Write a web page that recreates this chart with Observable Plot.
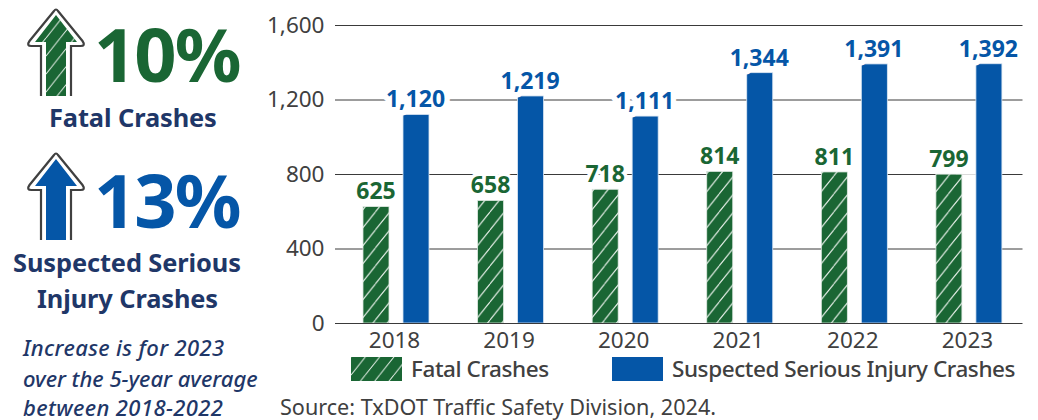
<!DOCTYPE html>
<html>
<head>
<meta charset="utf-8">
<script src="https://cdn.jsdelivr.net/npm/d3@7"></script>
<script src="https://cdn.jsdelivr.net/npm/@observablehq/plot@0.6"></script>
<style>
  html,body{margin:0;padding:0;background:#fff;overflow:hidden}
  #page{position:relative;width:1038px;height:420px;font-family:"Noto Sans",sans-serif}
  #page svg{position:absolute;left:0;top:0}
  .t{position:absolute;white-space:nowrap;line-height:1;transform:translateY(-50%)}
  .big{font-weight:700;font-size:74px;letter-spacing:-2px}
  .head{font-weight:700;font-size:25.4px;color:#1f3768;letter-spacing:-0.1px}
  .note{font-style:italic;font-size:22px;color:#1f3768;font-weight:500}
  .leg{font-size:22.5px;color:#404040;font-weight:500;letter-spacing:-0.43px}
  .src{font-size:21.6px;color:#404040}
  .sw{position:absolute;top:357px;width:51px;height:24px}
</style>
</head>
<body>
<div id="page"></div>
<script>
const years = ["2018","2019","2020","2021","2022","2023"];
const fatal = [625,658,718,814,811,799];
const serious = [1120,1219,1111,1344,1391,1392];
const yTicks = [0,400,800,1200,1600];
const green = "#1a6634", blue = "#0556a7", grey = "#404040";
const comma = d3.format(",");

const hatch = () => `<pattern id="hatch" patternUnits="userSpaceOnUse" x="363" y="212" width="14.325" height="18">
  <rect width="14.325" height="18" fill="${green}"/>
  <path d="M-14.325 18L0 0M0 18L14.325 0M14.325 18L28.65 0" stroke="#e6efe8" stroke-width="1.1" fill="none"/>
</pattern>`;

const chart = Plot.plot({
  width: 1038, height: 420,
  marginLeft: 335, marginRight: 15.5, marginTop: 25, marginBottom: 97,
  style: {background: "transparent", fontFamily: '"Noto Sans",sans-serif'},
  x: {domain: years, paddingInner: 0.773, paddingOuter: 0.3865, round: false, label: null},
  y: {domain: [0,1600], label: null},
  marks: [
    Plot.ruleY(yTicks.filter(d => d > 0), {stroke: "#3a3a3a", strokeWidth: 1}),
    Plot.barY(years, {x: d => d, y: (d,i) => fatal[i], fill: "#fff", dx: 3.7}),
    Plot.barY(years, {x: d => d, y: (d,i) => fatal[i], fill: "url(#hatch)", stroke: "#dfe9e2", strokeWidth: 0.8, dx: -16.3}),
    Plot.barY(years, {x: d => d, y: (d,i) => serious[i], fill: blue, stroke: "#dce7f3", strokeWidth: 0.8, dx: 23.7}),
    Plot.ruleY([0], {stroke: "#3a3a3a", strokeWidth: 1}),
    Plot.text(years, {x: d => d, y: (d,i) => fatal[i], text: (d,i) => comma(fatal[i]), dx: -16.8, dy: -15,
      fill: green, stroke: "#fff", strokeWidth: 7, paintOrder: "stroke", fontSize: 23, fontWeight: 700}),
    Plot.text(years, {x: d => d, y: (d,i) => serious[i], text: (d,i) => comma(serious[i]), dx: 22.7, dy: -15,
      fill: blue, stroke: "#fff", strokeWidth: 11, paintOrder: "stroke", fontSize: 23, fontWeight: 700}),
    Plot.axisY({ticks: yTicks, tickSize: 0, tickPadding: 11, tickFormat: comma, fontSize: 22.5, fill: grey, label: null}),
    Plot.axisX({tickSize: 0, tickPadding: 9, fontSize: 22.5, fill: grey, label: null, dx: 1.7}),
    () => { const g = document.createElementNS("http://www.w3.org/2000/svg","defs"); g.innerHTML = hatch(); return g; }
  ]
});

const page = document.getElementById("page");
page.appendChild(chart);

const arrow = (dy, fill) => `<g transform="translate(0,${dy})">
  <path d="M41 96V46H31.5Q26 46 29.5 41L54 11Q56 8 58 11L82.5 41Q86 46 80.5 46H71V96" fill="#fff" stroke="#404040" stroke-width="2.2"/>
  <path d="M46 96V42H35L56 15L77 42H66V96Z" fill="${fill}"/></g>`;
const ns = "http://www.w3.org/2000/svg";
const icons = document.createElementNS(ns,"svg");
icons.setAttribute("width",95); icons.setAttribute("height",250);
icons.innerHTML = arrow(0,"url(#hatch2)") + arrow(144,blue) +
 `<defs><pattern id="hatch2" patternUnits="userSpaceOnUse" x="46" y="20" width="14.3" height="18">
  <rect width="14.3" height="18" fill="${green}"/>
  <path d="M-14.3 18L0 0M0 18L14.3 0M14.3 18L28.6 0" stroke="#e6efe8" stroke-width="1" fill="none"/></pattern></defs>`;
page.appendChild(icons);

const add = (cls, text, style) => {
  const d = document.createElement("div");
  d.className = "t " + cls; d.textContent = text; d.style.cssText = style; page.appendChild(d); return d;
};
add("big","10%",`left:94px;top:54px;color:${green}`);
add("big","13%",`left:94px;top:200px;color:${blue}`);
add("head","Fatal Crashes","left:49px;top:118px");
add("head","Suspected Serious","left:13px;top:263px");
add("head","Injury Crashes","left:37px;top:299px");
add("note","Increase is for 2023","left:23px;top:347px;letter-spacing:.35px");
add("note","over the 5-year average","left:23px;top:378px");
add("note","between 2018-2022","left:23px;top:407px;letter-spacing:.4px");
const s1 = document.createElementNS(ns,"svg");
s1.setAttribute("class","sw"); s1.setAttribute("width",51); s1.setAttribute("height",24);
s1.style.cssText="left:351px;top:357px";
s1.innerHTML = `<defs><pattern id="hatch3" patternUnits="userSpaceOnUse" width="14.3" height="18">
  <rect width="14.3" height="18" fill="${green}"/>
  <path d="M-14.3 18L0 0M0 18L14.3 0M14.3 18L28.6 0" stroke="#e6efe8" stroke-width="1" fill="none"/></pattern></defs>
  <rect width="51" height="24" fill="url(#hatch3)"/>`;
page.appendChild(s1);
add("leg","Fatal Crashes","left:411px;top:369px");
const s2 = document.createElement("div");
s2.className="sw"; s2.style.cssText=`left:612px;background:${blue}`;
page.appendChild(s2);
add("leg","Suspected Serious Injury Crashes","left:672px;top:369px");
add("src","Source: TxDOT Traffic Safety Division, 2024.","left:280px;top:407px");
</script>
</body>
</html>
